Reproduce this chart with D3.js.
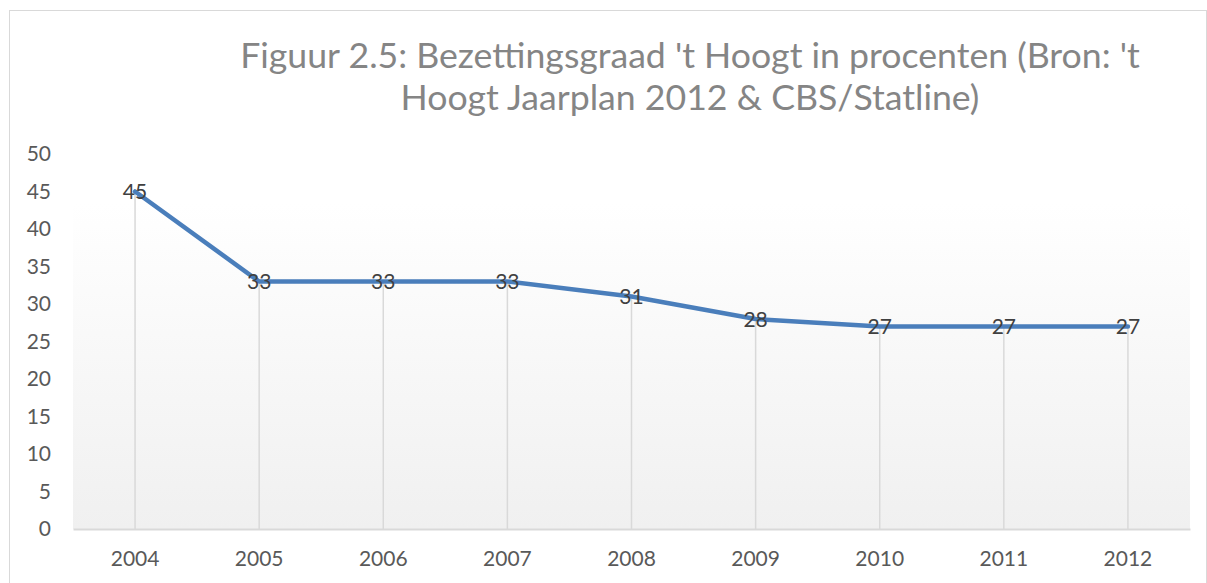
<!DOCTYPE html>
<html>
<head>
<meta charset="utf-8">
<script src="https://d3js.org/d3.v7.min.js"></script>
<style>
  html, body { margin: 0; padding: 0; background: #fff; overflow: hidden; }
  svg { display: block; font-family: Lato, "Open Sans", sans-serif; }
</style>
</head>
<body>
<svg id="chart" width="1207" height="583"></svg>
<script>
const years = ['2004', '2005', '2006', '2007', '2008', '2009', '2010', '2011', '2012'];
const occupancy = [45, 33, 33, 33, 31, 28, 27, 27, 27];
const yTicks = [0, 5, 10, 15, 20, 25, 30, 35, 40, 45, 50];
const titleLines = ["Figuur 2.5: Bezettingsgraad 't Hoogt in procenten (Bron: 't",
                    "Hoogt Jaarplan 2012 & CBS/Statline)"];

const svg = d3.select('#chart');
const plot = {left: 73, right: 1190, top: 154, bottom: 529};
const labelFont = '21px';

// outer chart border
svg.append('rect')
    .attr('x', 9.5).attr('y', 10.5)
    .attr('width', 1197).attr('height', 600)
    .attr('fill', '#fff')
    .attr('stroke', '#d9d9d9');

// plot background gradient
const grad = svg.append('defs').append('linearGradient')
    .attr('id', 'bg').attr('x1', 0).attr('y1', 0).attr('x2', 0).attr('y2', 1);
grad.append('stop').attr('offset', '0%').attr('stop-color', '#ffffff');
grad.append('stop').attr('offset', '100%').attr('stop-color', '#f0f0f0');

const x = d3.scaleBand().domain(years).range([plot.left, plot.right]);
const y = d3.scaleLinear().domain([0, 50]).range([plot.bottom, plot.top]);

svg.append('rect')
    .attr('x', plot.left).attr('y', y(45) + 12)
    .attr('width', plot.right - plot.left)
    .attr('height', plot.bottom - y(45) - 12)
    .attr('fill', 'url(#bg)');

// title
const title = svg.append('text')
    .attr('fill', '#858585')
    .attr('text-anchor', 'middle');
title.selectAll('tspan')
    .data(titleLines)
    .join('tspan')
    .attr('x', 690)
    .attr('y', (d, i) => 68 + i * 42)
    .text(d => d);
title.style('font-size', '32px');
const w = title.select('tspan').node().getComputedTextLength();
title.style('font-size', (32 * 900 / w) + 'px');

// drop lines
const cx = d => x(d) + x.bandwidth() / 2;
svg.append('g')
    .selectAll('line')
    .data(years)
    .join('line')
    .attr('x1', d => cx(d)).attr('x2', d => cx(d))
    .attr('y1', (d, i) => y(occupancy[i]))
    .attr('y2', plot.bottom)
    .attr('stroke', '#d9d9d9')
    .attr('stroke-width', 1.5);

// x axis
const xAxis = svg.append('g')
    .attr('transform', `translate(0,${plot.bottom})`)
    .call(d3.axisBottom(x).tickSize(0).tickPadding(22));
xAxis.select('.domain').attr('stroke', '#d9d9d9').attr('stroke-width', 2);
xAxis.selectAll('text')
    .attr('fill', '#595959')
    .style('font-size', labelFont)
    .style('font-family', 'Lato, "Open Sans", sans-serif');

// y axis
const yAxis = svg.append('g')
    .attr('transform', `translate(${plot.left},0)`)
    .call(d3.axisLeft(y).tickValues(yTicks).tickSize(0).tickPadding(22));
yAxis.select('.domain').remove();
yAxis.selectAll('text')
    .attr('fill', '#595959')
    .style('font-size', labelFont)
    .style('font-family', 'Lato, "Open Sans", sans-serif');

// line
const line = d3.line()
    .x((d, i) => cx(years[i]))
    .y(d => y(d));
svg.append('path')
    .datum(occupancy)
    .attr('d', line)
    .attr('fill', 'none')
    .attr('stroke', '#4a7ebb')
    .attr('stroke-width', 4.5)
    .attr('stroke-linejoin', 'round')
    .attr('stroke-linecap', 'round');

// data labels
svg.append('g')
    .selectAll('text')
    .data(occupancy)
    .join('text')
    .attr('x', (d, i) => cx(years[i]))
    .attr('y', d => y(d))
    .attr('dy', '0.38em')
    .attr('text-anchor', 'middle')
    .attr('fill', '#404040')
    .style('font-size', labelFont)
    .text(d => d);
</script>
</body>
</html>
